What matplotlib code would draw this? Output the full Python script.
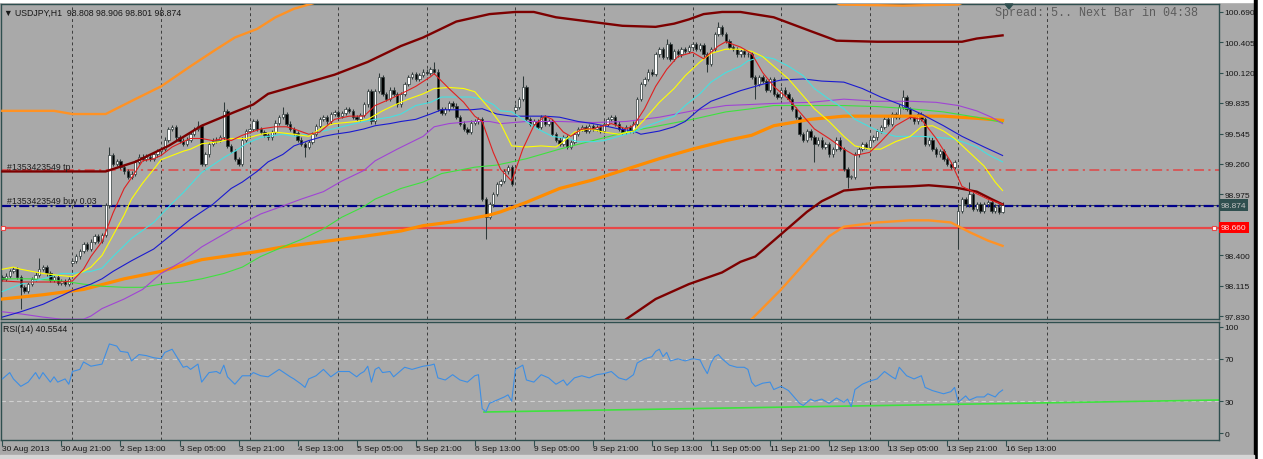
import matplotlib
matplotlib.use("Agg")
import matplotlib.pyplot as plt
from matplotlib import transforms
from matplotlib.patches import Rectangle, Polygon

plt.rcParams['font.family'] = ['Liberation Sans', 'DejaVu Sans']

# ---------------- data (USDJPY H1, bar 0 = 30 Aug 2013 05:00) ----------------
closes = [
    98.18, 98.21, 98.25, 98.27, 98.20, 98.10, 98.07, 98.13, 98.18, 98.22, 98.27, 98.29, 98.23, 98.17, 98.20, 98.14,
    98.16, 98.13, 98.18, 98.35, 98.39, 98.44, 98.51, 98.46, 98.53, 98.58, 98.54, 98.59, 98.87, 99.34, 99.26, 99.29,
    99.23, 99.19, 99.14, 99.17, 99.28, 99.33, 99.31, 99.33, 99.31, 99.35, 99.38, 99.40, 99.49, 99.59, 99.61, 99.51,
    99.48, 99.45, 99.49, 99.54, 99.59, 99.62, 99.26, 99.35, 99.45, 99.48, 99.49, 99.51, 99.76, 99.43, 99.38, 99.31,
    99.26, 99.49, 99.57, 99.59, 99.66, 99.59, 99.56, 99.53, 99.51, 99.56, 99.65, 99.70, 99.73, 99.64, 99.59, 99.55,
    99.49, 99.45, 99.42, 99.47, 99.54, 99.62, 99.68, 99.70, 99.66, 99.73, 99.75, 99.71, 99.74, 99.78, 99.76, 99.70,
    99.68, 99.72, 99.82, 99.95, 99.66, 99.95, 100.08, 99.92, 99.87, 99.96, 99.92, 99.82, 99.92, 100.01, 100.08, 100.11,
    100.06, 100.10, 100.13, 100.12, 100.15, 100.13, 99.78, 99.74, 99.78, 99.83, 99.81, 99.70, 99.64, 99.59, 99.56, 99.65,
    99.66, 99.68, 98.93, 98.76, 98.88, 98.98, 99.07, 99.10, 99.19, 99.23, 99.07, 99.80, 99.87, 99.98, 99.68, 99.64,
    99.66, 99.61, 99.70, 99.64, 99.66, 99.54, 99.49, 99.45, 99.51, 99.42, 99.47, 99.54, 99.59, 99.61, 99.57, 99.62,
    99.59, 99.61, 99.57, 99.64, 99.68, 99.70, 99.64, 99.59, 99.56, 99.61, 99.57, 99.64, 99.87, 100.01, 100.06, 100.13,
    100.11, 100.29, 100.34, 100.27, 100.39, 100.25, 100.32, 100.29, 100.34, 100.32, 100.36, 100.39, 100.34, 100.38, 100.29, 100.20,
    100.34, 100.48, 100.55, 100.48, 100.42, 100.36, 100.34, 100.29, 100.32, 100.29, 100.29, 100.08, 100.01, 100.08, 100.04, 99.96,
    100.06, 99.92, 99.89, 99.96, 99.92, 99.87, 99.78, 99.70, 99.54, 99.49, 99.57, 99.51, 99.45, 99.49, 99.42, 99.45,
    99.35, 99.40, 99.49, 99.40, 99.21, 99.14, 99.14, 99.35, 99.40, 99.45, 99.42, 99.49, 99.51, 99.57, 99.61, 99.68,
    99.64, 99.73, 99.70, 99.80, 99.89, 99.78, 99.70, 99.66, 99.73, 99.68, 99.45, 99.49, 99.40, 99.35, 99.38, 99.31,
    99.26, 99.23, 99.28, 98.82, 98.93, 98.88, 98.98, 98.84, 98.88, 98.82, 98.88, 98.90, 98.82, 98.86, 98.81, 98.874,
]
first_open = 98.20
gap_opens = {19: 98.33, 139: 99.77, 259: 98.68}          # Monday opens after the weekend
wick_highs = {10: 98.38, 29: 99.42, 53: 99.66, 60: 99.84, 76: 99.80, 102: 100.12, 117: 100.22,
              141: 100.09, 180: 100.44, 194: 100.60, 244: 99.96, 259: 98.88, 262: 99.09, 271: 98.906}
wick_lows = {5: 97.90, 82: 99.33, 131: 98.55, 191: 100.13, 204: 99.87, 220: 99.28, 229: 99.03,
             259: 98.46, 271: 98.801}
WICK = 0.02

# moving averages (bar, price)
red_bars = [0, 5, 11, 16, 19, 22, 24, 27, 30, 33, 35, 38, 41, 43, 46, 49, 51, 54, 57, 60,
            62, 65, 70, 74, 77, 79, 83, 86, 90, 94, 98, 101, 105, 108, 112, 116, 117, 121, 125, 128,
            130, 133, 135, 138, 141, 144, 147, 149, 152, 154, 157, 160, 165, 169, 171, 174, 177, 180, 183, 187,
            190, 194, 196, 200, 203, 206, 209, 213, 217, 220, 224, 228, 231, 235, 238, 242, 246, 249, 253, 257,
            260, 264, 267, 271]
red_vals = [98.16, 98.15, 98.15, 98.15, 98.16, 98.27, 98.39, 98.53, 98.80, 99.03, 99.13, 99.29, 99.31, 99.34, 99.42, 99.47, 99.50, 99.50, 99.48, 99.50,
            99.48, 99.53, 99.59, 99.61, 99.61, 99.59, 99.54, 99.56, 99.68, 99.71, 99.71, 99.81, 99.87, 99.92, 99.99, 100.08, 100.11, 99.97, 99.84, 99.71,
            99.66, 99.37, 99.21, 99.10, 99.40, 99.62, 99.71, 99.68, 99.56, 99.52, 99.59, 99.59, 99.64, 99.59, 99.62, 99.78, 99.99, 100.15, 100.27, 100.31,
            100.25, 100.37, 100.41, 100.36, 100.30, 100.12, 99.99, 99.87, 99.71, 99.59, 99.50, 99.40, 99.34, 99.37, 99.47, 99.62, 99.70, 99.68, 99.50, 99.28,
            99.05, 98.98, 98.93, 98.88]
yellow_bars = [0, 3, 5, 11, 16, 19, 22, 24, 27, 30, 33, 35, 38, 41, 43, 46, 49, 51, 54, 59,
               62, 66, 70, 74, 79, 83, 87, 90, 96, 99, 103, 106, 110, 114, 117, 121, 125, 128, 132, 135,
               138, 142, 146, 150, 152, 155, 159, 163, 167, 171, 174, 178, 182, 185, 189, 192, 196, 200, 203, 206,
               209, 213, 217, 220, 224, 228, 231, 235, 238, 242, 246, 249, 252, 255, 258, 262, 266, 269, 271]
yellow_vals = [98.27, 98.29, 98.27, 98.23, 98.21, 98.20, 98.25, 98.29, 98.40, 98.59, 98.78, 98.93, 99.08, 99.21, 99.30, 99.34, 99.38, 99.40, 99.45, 99.47,
               99.50, 99.50, 99.54, 99.56, 99.54, 99.52, 99.61, 99.64, 99.66, 99.68, 99.76, 99.81, 99.87, 99.92, 99.97, 99.98, 99.97, 99.94, 99.78, 99.64,
               99.43, 99.42, 99.43, 99.42, 99.47, 99.56, 99.59, 99.56, 99.54, 99.57, 99.68, 99.84, 99.97, 100.09, 100.22, 100.30, 100.34, 100.34, 100.32, 100.27,
               100.18, 100.06, 99.90, 99.78, 99.66, 99.52, 99.43, 99.40, 99.40, 99.47, 99.52, 99.61, 99.62, 99.57, 99.50, 99.37, 99.24, 99.09, 99.01]
cyan_bars = [0, 5, 11, 16, 19, 24, 27, 30, 35, 41, 46, 49, 54, 60, 63, 66, 70, 76, 79, 83,
             87, 92, 98, 101, 105, 108, 112, 116, 119, 123, 127, 130, 133, 135, 138, 142, 145, 149, 153, 156,
             160, 163, 167, 171, 174, 178, 182, 185, 189, 192, 196, 200, 202, 206, 209, 213, 217, 220, 224, 228,
             231, 235, 238, 242, 249, 253, 257, 260, 264, 267, 271]
cyan_vals = [98.06, 98.13, 98.18, 98.23, 98.23, 98.25, 98.28, 98.39, 98.56, 98.71, 98.89, 98.99, 99.18, 99.32, 99.38, 99.45, 99.51, 99.54, 99.52, 99.54,
             99.57, 99.61, 99.66, 99.68, 99.70, 99.73, 99.81, 99.84, 99.89, 99.89, 99.89, 99.87, 99.82, 99.76, 99.75, 99.66, 99.59, 99.52, 99.50, 99.47,
             99.47, 99.48, 99.52, 99.56, 99.61, 99.66, 99.71, 99.81, 99.92, 100.03, 100.12, 100.18, 100.23, 100.27, 100.25, 100.18, 100.09, 99.97, 99.87, 99.78,
             99.68, 99.61, 99.56, 99.52, 99.52, 99.51, 99.50, 99.47, 99.42, 99.35, 99.28]
blue_bars = [0, 5, 11, 16, 19, 24, 27, 30, 35, 41, 46, 51, 57, 62, 65, 69, 72, 76, 79, 83,
             87, 90, 94, 98, 101, 105, 108, 112, 116, 119, 127, 130, 134, 138, 147, 151, 156, 160, 163, 167,
             171, 173, 178, 182, 185, 189, 192, 196, 200, 203, 206, 211, 217, 222, 228, 233, 238, 244, 249, 255,
             260, 266, 271]
blue_vals = [97.82, 97.87, 97.94, 98.02, 98.07, 98.13, 98.18, 98.25, 98.35, 98.46, 98.60, 98.74, 98.88, 99.03, 99.09, 99.19, 99.28, 99.35, 99.43, 99.48,
             99.52, 99.54, 99.56, 99.59, 99.62, 99.64, 99.66, 99.68, 99.73, 99.77, 99.77, 99.78, 99.73, 99.71, 99.71, 99.70, 99.66, 99.64, 99.62, 99.59,
             99.57, 99.54, 99.57, 99.61, 99.66, 99.78, 99.85, 99.90, 99.95, 99.98, 100.01, 100.05, 100.06, 100.04, 100.03, 99.97, 99.89, 99.81, 99.73, 99.62,
             99.52, 99.42, 99.34]
purple_bars = [0, 5, 11, 16, 22, 24, 27, 33, 38, 43, 49, 54, 60, 65, 70, 74, 81, 87, 92, 98,
               101, 107, 114, 117, 121, 127, 132, 135, 142, 151, 160, 169, 178, 187, 196, 203, 209, 219, 228, 237,
               246, 253, 259, 264, 268, 271]
purple_vals = [97.87, 97.85, 97.82, 97.80, 97.80, 97.83, 97.90, 97.99, 98.08, 98.23, 98.35, 98.48, 98.60, 98.70, 98.79, 98.84, 98.93, 99.00, 99.10, 99.20,
               99.29, 99.40, 99.52, 99.61, 99.64, 99.66, 99.66, 99.64, 99.66, 99.66, 99.65, 99.66, 99.70, 99.76, 99.81, 99.82, 99.83, 99.84, 99.87, 99.85,
               99.85, 99.84, 99.81, 99.76, 99.70, 99.64]
green_bars = [0, 8, 16, 22, 27, 33, 38, 43, 49, 54, 60, 65, 70, 76, 81, 87, 92, 98, 101, 108,
              114, 119, 128, 134, 138, 142, 151, 160, 169, 178, 187, 196, 203, 209, 219, 228, 237, 246, 255, 264,
              271]
green_vals = [98.18, 98.18, 98.16, 98.13, 98.11, 98.10, 98.10, 98.13, 98.15, 98.18, 98.23, 98.29, 98.39, 98.48, 98.55, 98.65, 98.76, 98.86, 98.93, 99.03,
              99.09, 99.17, 99.23, 99.25, 99.28, 99.31, 99.40, 99.48, 99.56, 99.62, 99.68, 99.75, 99.78, 99.81, 99.81, 99.81, 99.80, 99.78, 99.75, 99.70,
              99.65]
orange_bars = [0, 11, 22, 33, 43, 54, 68, 76, 87, 98, 108, 114, 123, 132, 135, 142, 151, 160, 169, 178,
               187, 196, 203, 209, 219, 228, 237, 246, 255, 264, 271]
orange_vals = [97.99, 98.03, 98.08, 98.18, 98.25, 98.36, 98.43, 98.48, 98.53, 98.58, 98.63, 98.68, 98.72, 98.78, 98.81, 98.90, 99.03, 99.11, 99.21, 99.31,
               99.40, 99.48, 99.53, 99.62, 99.68, 99.71, 99.71, 99.71, 99.71, 99.69, 99.67]

# envelopes / bands
env_up_l_bars = [0, 14, 19, 28, 36, 43, 51, 58, 63, 69, 74, 79, 84, 92]
env_up_l_vals = [99.76, 99.76, 99.73, 99.73, 99.87, 99.99, 100.18, 100.34, 100.45, 100.53, 100.64, 100.72, 100.77, 100.86]
env_up_r_bars = [222, 227, 244, 259, 264]
env_up_r_vals = [100.84, 100.76, 100.75, 100.76, 100.84]
env_lo_bars = [200, 203, 211, 219, 224, 228, 237, 246, 251, 257, 262, 267, 271]
env_lo_vals = [97.70, 97.80, 98.08, 98.39, 98.58, 98.67, 98.71, 98.73, 98.73, 98.71, 98.62, 98.54, 98.49]
band_up_bars = [0, 28, 36, 45, 54, 63, 68, 72, 81, 90, 99, 108, 114, 123, 132, 139, 144, 150, 159, 168,
                177, 182, 186, 190, 195, 200, 209, 219, 226, 237, 246, 255, 260, 264, 271]
band_up_vals = [99.19, 99.19, 99.28, 99.43, 99.62, 99.75, 99.82, 99.92, 100.01, 100.10, 100.22, 100.37, 100.45, 100.60, 100.67, 100.69, 100.69, 100.64, 100.60, 100.56,
                100.55, 100.58, 100.62, 100.67, 100.69, 100.69, 100.64, 100.51, 100.42, 100.41, 100.41, 100.41, 100.41, 100.44, 100.47]
band_lo_bars = [167, 169, 177, 186, 195, 200, 204, 211, 218, 222, 228, 237, 246, 251, 258, 264, 268, 271]
band_lo_vals = [97.75, 97.80, 97.99, 98.13, 98.24, 98.34, 98.39, 98.60, 98.81, 98.91, 99.01, 99.04, 99.05, 99.06, 99.04, 99.00, 98.93, 98.88]

# order lines
tp_price = 99.20
buy_price = 98.862
bid_price = 98.874
alert_price = 98.660

# RSI(14)
rsi_bars = [0, 2, 3, 5, 7, 9, 10, 11, 13, 14,
            15, 17, 18, 19, 21, 22, 24, 27, 29, 31,
            32, 34, 35, 37, 39, 41, 43, 44, 46, 49,
            50, 51, 53, 54, 56, 58, 59, 60, 61, 63,
            65, 67, 68, 70, 72, 75, 78, 79, 81, 82,
            83, 85, 87, 89, 91, 94, 96, 97, 98, 99,
            100, 101, 102, 103, 105, 106, 109, 111, 114, 116,
            117, 118, 120, 122, 124, 126, 128, 129, 130, 131,
            132, 134, 136, 137, 138, 139, 141, 142, 144, 146,
            148, 150, 152, 153, 155, 157, 159, 161, 163, 165,
            167, 169, 171, 172, 174, 176, 177, 178, 179, 180,
            181, 183, 185, 187, 189, 190, 191, 192, 193, 194,
            195, 197, 199, 201, 202, 203, 204, 206, 208, 209,
            211, 213, 214, 216, 217, 219, 220, 222, 224, 226,
            228, 229, 230, 231, 233, 235, 237, 239, 241, 242,
            243, 245, 247, 249, 250, 252, 255, 257, 258, 259,
            261, 262, 264, 266, 267, 269, 270, 271]
rsi_vals = [51, 57, 51, 44, 48, 57, 51, 57, 48, 53,
            48, 51, 46, 58, 60, 67, 63, 65, 84, 82,
            77, 76, 68, 74, 73, 71, 70, 76, 79, 62,
            63, 60, 65, 48, 57, 58, 56, 64, 53, 46,
            54, 54, 57, 54, 53, 60, 53, 51, 46, 43,
            51, 54, 60, 53, 58, 58, 53, 56, 58, 63,
            48, 60, 62, 57, 58, 53, 62, 60, 63, 64,
            65, 52, 50, 55, 50, 48, 54, 55, 23, 20,
            28, 31, 34, 36, 30, 60, 64, 50, 48, 55,
            52, 46, 50, 45, 52, 54, 52, 55, 56, 58,
            52, 50, 55, 66, 70, 72, 77, 79, 72, 76,
            68, 70, 68, 70, 69, 62, 56, 66, 72, 74,
            70, 64, 62, 62, 60, 48, 44, 47, 48, 41,
            44, 40, 36, 28, 26, 32, 30, 32, 28, 33,
            29, 32, 25, 41, 46, 49, 51, 58, 53, 51,
            62, 54, 51, 54, 43, 40, 37, 39, 43, 29,
            35, 31, 34, 34, 37, 34, 38, 40.55]
rsi_trend_bars = [130.5, 329.5]
rsi_trend_vals = [19.8, 31.1]

price_ticks = [97.830, 98.115, 98.400, 98.690, 98.975, 99.260, 99.545, 99.835, 100.120, 100.405, 100.690]
hidden_ticks = [98.690]                     # label sits behind the red price box
date_bars = [16 * k for k in range(18)]
date_labels = ["30 Aug 2013", "30 Aug 21:00", "2 Sep 13:00", "3 Sep 05:00", "3 Sep 21:00", "4 Sep 13:00",
               "5 Sep 05:00", "5 Sep 21:00", "6 Sep 13:00", "9 Sep 05:00", "9 Sep 21:00", "10 Sep 13:00",
               "11 Sep 05:00", "11 Sep 21:00", "12 Sep 13:00", "13 Sep 05:00", "13 Sep 21:00", "16 Sep 13:00"]
day_starts = [19, 43, 67, 91, 115, 139, 163, 187, 211, 235, 259, 283]

# ---------------- figure ----------------
W, H = 1263, 460
BG = '#a9a9a9'
FRAME = '#2f4f4f'
TXT = '#181818'
FS = 6.3
FS_AX = 6.0

fig = plt.figure(figsize=(W / 100, H / 100), dpi=100)
fig.patch.set_facecolor(BG)


def fx(px):
    return px / W


def fy(py):
    return 1 - py / H


ax = fig.add_axes([fx(0.5), fy(320), 1218 / W, 315 / H])
ax2 = fig.add_axes([fx(0.5), fy(441), 1218 / W, 118 / H])

for a in (ax, ax2):
    a.set_facecolor(BG)
    a.set_xlim(-0.5, 329.5)
    for s in a.spines.values():
        s.set_color(FRAME)
        s.set_linewidth(1.0)
    for b in day_starts:
        a.axvline(b, color='#3c3c3c', lw=0.7, ls=(0, (3, 3)), zorder=0.5)

ax.set_ylim(97.802, 100.765)
ax2.set_ylim(-6.6, 104.7)

# order / level lines
ax.axhline(tp_price, color='#e04545', lw=1.1, ls=(0, (6.5, 2.9, 1.4, 2.9)), zorder=1.5)
ax.axhline(bid_price, color='#3a4848', lw=0.7, zorder=1.4)
ax.axhline(buy_price, color='#00008b', lw=1.6, ls=(0, (4.5, 1.4, 0.9, 1.4)), zorder=1.5)
ax.axhline(alert_price, color='#e84848', lw=1.6, zorder=1.5)
ax.plot([0.2, 328.4], [alert_price, alert_price], 's', ms=3.4, mfc='white', mec='#e84848',
        mew=0.8, clip_on=False, zorder=6)

# candles
n = len(closes)
idx = list(range(n))
opens = [first_open] + closes[:-1]
for b, v in gap_opens.items():
    opens[b] = v
highs = [wick_highs.get(i, max(opens[i], closes[i]) + WICK) for i in idx]
lows = [wick_lows.get(i, min(opens[i], closes[i]) - WICK) for i in idx]
ax.vlines(idx, lows, highs, color='#2f3a3a', lw=0.75, zorder=2)
bottoms = [min(o, c) for o, c in zip(opens, closes)]
heights = [max(abs(c - o), 0.004) for o, c in zip(opens, closes)]
faces = ['white' if c >= o else 'black' for o, c in zip(opens, closes)]
ax.bar(idx, heights, bottom=bottoms, width=0.64, color=faces, edgecolor='#2f3a3a',
       lw=0.5, zorder=2.1)

# indicators
ax.plot(band_up_bars, band_up_vals, color='#7d0000', lw=1.7, zorder=3)
ax.plot(band_lo_bars, band_lo_vals, color='#7d0000', lw=1.7, zorder=3)
ax.plot(env_up_l_bars, env_up_l_vals, color='#ff9224', lw=1.7, zorder=3)
ax.plot(env_up_r_bars, env_up_r_vals, color='#ff9224', lw=1.7, zorder=3)
ax.plot(env_lo_bars, env_lo_vals, color='#ff9224', lw=1.7, zorder=3)
ax.plot(orange_bars, orange_vals, color='#ff8c00', lw=2.3, zorder=3)
ax.plot(green_bars, green_vals, color='#3ee23e', lw=0.8, zorder=3.1)
ax.plot(purple_bars, purple_vals, color='#a044d4', lw=0.8, zorder=3.1)
ax.plot(blue_bars, blue_vals, color='#1a1ad0', lw=0.8, zorder=3.1)
ax.plot(cyan_bars, cyan_vals, color='#45e0e0', lw=0.8, zorder=3.1)
ax.plot(yellow_bars, yellow_vals, color='#ffff00', lw=0.8, zorder=3.1)
ax.plot(red_bars, red_vals, color='#e02020', lw=0.8, zorder=3.2)

# price axis
ax.yaxis.tick_right()
ax.set_yticks(price_ticks)
ax.set_yticklabels(['' if v in hidden_ticks else f'{v:.3f}' for v in price_ticks])
ax.tick_params(axis='y', left=False, right=True, direction='out', length=3, color=FRAME,
               labelcolor=TXT, labelsize=FS_AX, pad=1.5)
ax.tick_params(axis='x', bottom=False, labelbottom=False)

bl = transforms.blended_transform_factory(ax.transAxes, ax.transData)
ax.text(1.0019, bid_price, '98.874', transform=bl, fontsize=FS_AX, color='#c4c4c4', va='center',
        ha='left', zorder=10, clip_on=False,
        bbox=dict(boxstyle='square,pad=0.25', fc=FRAME, ec='none'))
ax.text(1.0019, alert_price, '98.660', transform=bl, fontsize=FS_AX, color='#ffe0e0', va='center',
        ha='left', zorder=10, clip_on=False,
        bbox=dict(boxstyle='square,pad=0.25', fc='#ff0000', ec='none'))

# RSI
ax2.axhline(70, color='#d0d0d0', lw=0.8, ls=(0, (4, 3)), zorder=1)
ax2.axhline(30, color='#d0d0d0', lw=0.8, ls=(0, (4, 3)), zorder=1)
ax2.plot(rsi_trend_bars, rsi_trend_vals, color='#3ee23e', lw=1.2, zorder=2)
ax2.plot(rsi_bars, rsi_vals, color='#3d8ee4', lw=0.8, zorder=3)
ax2.yaxis.tick_right()
ax2.set_yticks([0, 30, 70, 100])
ax2.set_yticklabels(['0', '30', '70', '100'])
ax2.tick_params(axis='y', left=False, right=True, direction='out', length=3, color=FRAME,
                labelcolor=TXT, labelsize=FS_AX, pad=1.5)
ax2.set_xticks(date_bars)
ax2.tick_params(axis='x', direction='out', length=4, color=FRAME, labelbottom=False)
blx = transforms.blended_transform_factory(ax2.transData, ax2.transAxes)
for b, lab in zip(date_bars, date_labels):
    ax2.text(b, -0.068, lab, transform=blx, fontsize=FS_AX, color=TXT, ha='left', va='center',
             clip_on=False)

# texts
fig.text(fx(4), fy(13), '\u25bc USDJPY,H1  98.808 98.906 98.801 98.874', fontsize=FS, color=TXT,
         va='center')
fig.text(fx(995), fy(13), 'Spread: 5.. Next Bar in 04:38', family='Liberation Mono', fontsize=8.5,
         color='#5c5c5c', va='center')
fig.text(fx(7), fy(167), '#1353423549 tp', fontsize=FS, color='#202020', va='center')
fig.text(fx(7), fy(202), '#1353423549 buy 0.03', fontsize=FS, color='#202020', va='center')
fig.text(fx(3), fy(330), 'RSI(14) 40.5544', fontsize=FS, color=TXT, va='center')

# window chrome
fig.add_artist(Rectangle((0, fy(3)), 1, 3 / H, transform=fig.transFigure, color='white', zorder=5))
fig.add_artist(Rectangle((fx(1254), 0), 4 / W, 1, transform=fig.transFigure, color='black', zorder=5))
fig.add_artist(Rectangle((fx(1258), 0), 5 / W, 1, transform=fig.transFigure, color='white', zorder=5))
fig.add_artist(Rectangle((0, 0), fx(1254), 4 / H, transform=fig.transFigure, color='#d6d6d6', zorder=5))
fig.add_artist(Polygon([[fx(1005), fy(5)], [fx(1013), fy(5)], [fx(1009), fy(10)]],
                       closed=True, transform=fig.transFigure, color=FRAME, zorder=6))

fig.savefig('out.png', dpi=100, facecolor=fig.get_facecolor())
